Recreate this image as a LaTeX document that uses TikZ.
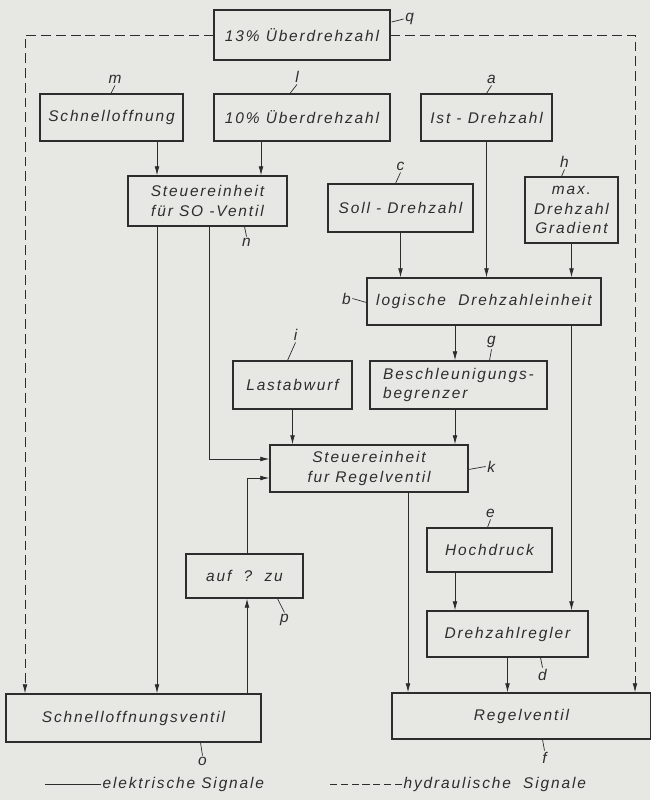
\documentclass[tikz,border=0pt]{standalone}
\usepackage{fontspec}
\setmainfont{Liberation Sans}[LetterSpace=12]
\usetikzlibrary{arrows.meta,calc}

\definecolor{paper}{RGB}{231,231,228}
\definecolor{ink}{RGB}{45,45,45}
\newcommand\fsz{\fontsize{11}{13.8}\selectfont\itshape}

\tikzset{
	blk/.style={draw=ink, line width=0.8pt, inner sep=1pt, align=center, font=\fsz, text=ink},
	sz/.style 2 args={minimum width=#1*0.025cm, minimum height=#2*0.025cm},
	sig/.style={draw=ink, line width=0.6pt, -{Latex[length=6.5pt,width=3.4pt]}},
	hyd/.style={sig, dash pattern=on 7pt off 3.5pt},
	tick/.style={draw=ink, line width=0.5pt},
	lab/.style={font=\fsz, inner sep=1pt, text=ink},
}

\begin{document}
\begin{tikzpicture}[x=0.025cm,y=-0.025cm]
	\fill[paper] (0,0) rectangle (650,800);
	\useasboundingbox (0,0) rectangle (650,800);

	% boxes
	\node[blk,sz={176}{50}] (q) at (302,35) {13\% Überdrehzahl};
	\node[blk,sz={143}{47}] (m) at (111.5,117.5) {Schnelloffnung};
	\node[blk,sz={176}{47}] (l) at (302,117.5) {10\% Überdrehzahl};
	\node[blk,sz={131}{47}] (a) at (486.5,117.5) {Ist - Drehzahl};
	\node[blk,sz={159}{50}] (n) at (207.5,201) {Steuereinheit\\für SO -Ventil};
	\node[blk,sz={145}{48}] (c) at (400.5,208) {Soll - Drehzahl};
	\node[blk,sz={93}{66}] (h) at (571.5,210) {max.\\Drehzahl\\Gradient};
	\node[blk,sz={234}{47}] (b) at (484,301.5) {logische\ \ Drehzahleinheit};
	\node[blk,sz={119}{48}] (i) at (292.5,385) {Lastabwurf};
	\node[blk,sz={177}{48},align=left] (g) at (458.5,385) {Beschleunigungs-\\begrenzer};
	\node[blk,sz={198}{47}] (k) at (369,468.5) {Steuereinheit\\fur Regelventil};
	\node[blk,sz={125}{44}] (e) at (489.5,550) {Hochdruck};
	\node[blk,sz={117}{44}] (p) at (244.5,576) {auf\ \ ?\ \ zu};
	\node[blk,sz={161}{46}] (d) at (507.5,634) {Drehzahlregler};
	\node[blk,sz={255}{48}] (o) at (133.5,718) {Schnelloffnungsventil};
	\node[blk,sz={259}{46}] (f) at (521.5,716) {Regelventil};

	% columns and rows of the signal lines
	\coordinate (xl) at (25,0);
	\coordinate (xa) at (157,0);
	\coordinate (xb) at (209,0);
	\coordinate (xc) at (247,0);
	\coordinate (xd) at (261,0);
	\coordinate (xf) at (408,0);
	\coordinate (xe) at (455,0);
	\coordinate (xr) at (635,0);
	\coordinate (ya) at (0,459);
	\coordinate (yb) at (0,478);

	% electric signals
	\draw[sig] (m.south -| xa) -- (n.north -| xa);
	\draw[sig] (l.south -| xd) -- (n.north -| xd);
	\draw[sig] (n.south -| xa) -- (o.north -| xa);
	\draw[sig] (n.south -| xb) |- (k.west |- ya);
	\draw[sig] (c.south) -- (c.south |- b.north);
	\draw[sig] (a.south) -- (a.south |- b.north);
	\draw[sig] (h.south) -- (h.south |- b.north);
	\draw[sig] (b.south -| xe) -- (g.north -| xe);
	\draw[sig] (g.south -| xe) -- (k.north -| xe);
	\draw[sig] (i.south) -- (i.south |- k.north);
	\draw[sig] (b.south -| h.south) -- (d.north -| h.south);
	\draw[sig] (e.south -| xe) -- (d.north -| xe);
	\draw[sig] (k.south -| xf) -- (f.north -| xf);
	\draw[sig] (d.south) -- (d.south |- f.north);
	\draw[sig] (o.north -| xc) -- (p.south -| xc);
	\draw[sig] (p.north -| xc) |- (k.west |- yb);

	% hydraulic signals
	\draw[hyd] (q.west) -| (o.north -| xl);
	\draw[hyd] (q.east) -| (f.north -| xr);

	% letters
	\draw[tick] (q.east) ++(1,-13) -- ++(12,-3) node[lab,right] (tq) {q};
	\draw[tick] (m.north) ++(-0.5,0) -- ++(4,-8) node[lab,above] (tm) {m};
	\draw[tick] (l.north) ++(-12,0) -- ++(7,-9) node[lab,above] (tl) {l};
	\draw[tick] (a.north) -- ++(5,-8) node[lab,above] (ta) {a};
	\draw[tick] (c.north) ++(-5,0) -- ++(5,-11) node[lab,above] (tc) {c};
	\draw[tick] (h.north) ++(-10,0) -- ++(3,-7) node[lab,above] (th) {h};
	\draw[tick] (n.south) ++(37,0) -- ++(2,10) node[lab,below] (tn) {n};
	\draw[tick] (b.west) ++(0,1) -- ++(-14,-4) node[lab,left] (tb) {b};
	\draw[tick] (g.north) ++(31,0) -- ++(2,-11) node[lab,above] (tg) {g};
	\draw[tick] (i.north) ++(-5,0) -- ++(8,-18) node[lab,above] (ti) {i};
	\draw[tick] (k.east) ++(0,1) -- ++(17,-3) node[lab,right] (tk) {k};
	\draw[tick] (e.north) ++(-2,0) -- ++(3,-8) node[lab,above] (te) {e};
	\draw[tick] (d.south) ++(33,0) -- ++(2,10) node[lab,below] (td) {d};
	\draw[tick] (p.south) ++(33,0) -- ++(7,14) node[lab,below] (tp) {p};
	\draw[tick] (o.south) ++(67,0) -- ++(2,13) node[lab,below] (to) {o};
	\draw[tick] (f.south) ++(21,0) -- ++(2,11) node[lab,below] (tf) {f};

	% legend
	\node[lab,anchor=west] (el) at (101,784) {elektrische Signale};
	\draw[ink, line width=0.6pt] (el.west) -- ++(-56,0);
	\node[lab,anchor=west] (hy) at (402,784) {hydraulische\ \ Signale};
	\draw[ink, line width=0.6pt, dash pattern=on 5pt off 2.7pt] (hy.west) -- ++(-72,0);
\end{tikzpicture}
\end{document}
